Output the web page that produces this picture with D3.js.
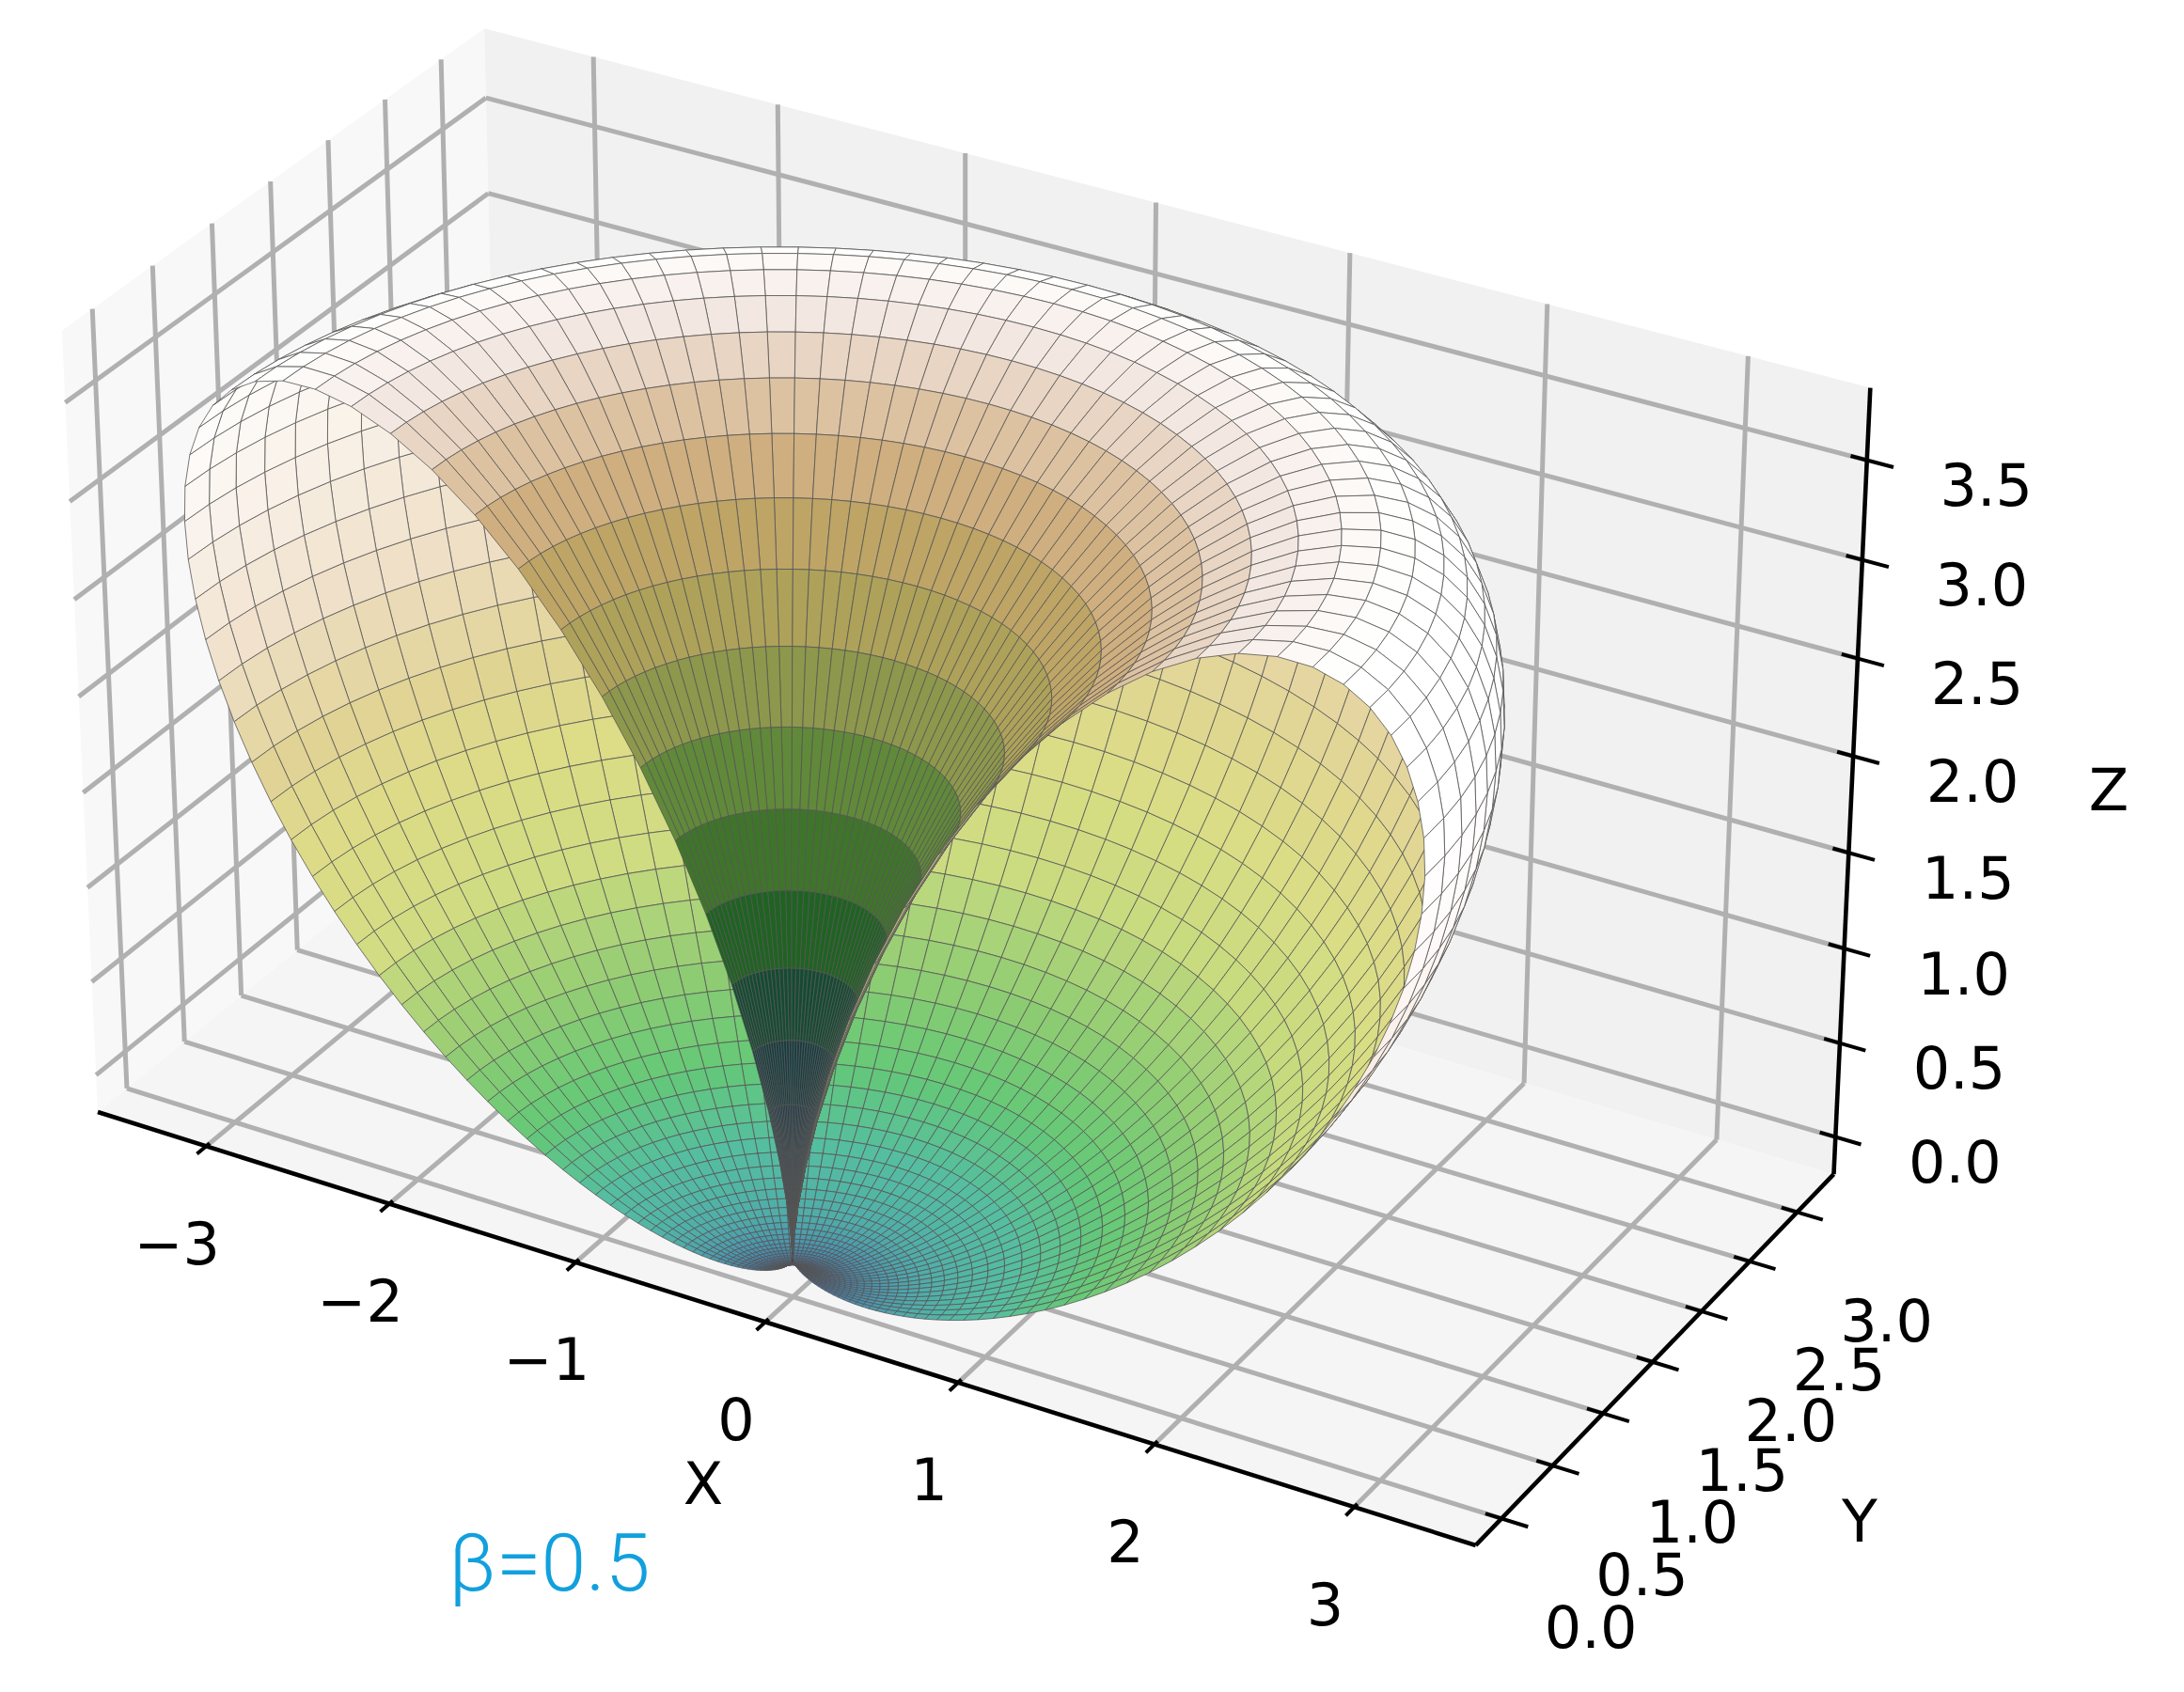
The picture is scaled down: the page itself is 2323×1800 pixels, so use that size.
<!DOCTYPE html>
<html><head><meta charset="utf-8"><style>html,body{margin:0;background:#fff}text{font-family:"DejaVu Sans"}</style>
<script src="https://cdn.jsdelivr.net/npm/d3@7"></script></head><body><svg id="c" width="2323" height="1800"></svg>
<script>
const xTicks=[-3,-2,-1,0,1,2,3], yTicks=[0,.5,1,1.5,2,2.5,3], zTicks=[0,.5,1,1.5,2,2.5,3,3.5];
const xLim=[-3.6,3.6], yLim=[-.25,3.39], zLim=[-.2,3.86];
const theta=d3.range(100).map(i=>i*180/99);
const phi=d3.range(51).map(i=>i*180/50);
const radius=[0.000,0.032,0.127,0.283,0.493,0.751,1.048,1.376,1.724,2.083,
2.442,2.793,3.128,3.438,3.720,3.967,4.176,4.347,4.477,4.569,
4.621,4.638,4.622,4.574,4.500,4.403,4.285,4.150,4.002,3.844,
3.678,3.508,3.334,3.160,2.988,2.817,2.650,2.488,2.332,2.181,
2.037,1.899,1.768,1.644,1.527,1.417,1.314,1.216,1.125,1.040,
0.961,0.887,0.818,0.754,0.695,0.640,0.588,0.541,0.497,0.456,
0.419,0.384,0.352,0.322,0.295,0.269,0.246,0.224,0.204,0.186,
0.169,0.153,0.139,0.125,0.113,0.102,0.091,0.082,0.073,0.065,
0.057,0.051,0.044,0.039,0.033,0.029,0.024,0.021,0.017,0.014,
0.011,0.009,0.007,0.005,0.003,0.002,0.001,0.001,0.000,0.000];
const wallZ=[0,.2,.5,.9,1.3,1.7,2,2.4,3,3.8];
const wallRight=["rgb(85,190,160)","rgb(100,200,118)","rgb(140,205,115)","rgb(195,218,125)","rgb(216,222,132)","rgb(222,218,138)","rgb(226,210,145)","rgb(228,206,152)","rgb(230,208,158)","rgb(232,212,170)"];
const wallLeftZ=[0,.2,.5,.9,1.3,1.7,2.2,2.8,3.3,3.8];
const wallLeft=["rgb(85,190,160)","rgb(100,200,118)","rgb(150,205,115)","rgb(210,220,130)","rgb(222,220,135)","rgb(225,210,150)","rgb(240,225,205)","rgb(250,243,238)","rgb(254,252,251)","rgb(255,255,255)"];
const lowerTheta=[90,100,110,125,140,180];
const lowerColor=["rgb(85,190,160)","rgb(80,175,170)","rgb(75,150,175)","rgb(65,115,170)","rgb(60,95,165)","rgb(70,85,140)"];
const outerZ=[1,1.5,2,2.5,3];
const outerColor=["rgb(235,215,190)","rgb(245,230,215)","rgb(250,240,235)","rgb(255,250,250)","rgb(255,255,255)"];
const coneTheta=[0,5,7,10,12.5,14,15,17,20,22,23.5,25,27,30,33,36];
const coneColor=["rgb(70,70,85)","rgb(50,60,90)","rgb(20,50,75)","rgb(20,60,65)","rgb(20,80,45)","rgb(35,105,30)","rgb(55,112,38)","rgb(90,135,55)","rgb(165,160,85)","rgb(185,165,95)","rgb(196,165,110)","rgb(212,180,135)","rgb(225,200,175)","rgb(243,232,225)","rgb(252,247,245)","rgb(255,255,255)"];

const elev=30*Math.PI/180, az=-60*Math.PI/180, dist=7;
const wx=d3.scaleLinear(xLim,[-.5,.5]), wy=d3.scaleLinear(yLim,[-.245,.245]), wz=d3.scaleLinear(zLim,[-.286,.286]);
const n=[Math.cos(elev)*Math.cos(az),Math.cos(elev)*Math.sin(az),Math.sin(elev)];
const u=[-n[1],n[0],0].map(v=>v/Math.hypot(n[0],n[1]));
const v=[n[1]*u[2]-n[2]*u[1],n[2]*u[0]-n[0]*u[2],n[0]*u[1]-n[1]*u[0]];
const dot=(a,b)=>a[0]*b[0]+a[1]*b[1]+a[2]*b[2];
const sx=d3.scaleLinear([0,1],[1023,1023+11871]), sy=d3.scaleLinear([0,1],[807.5,807.5-11780]);
function P(x,y,z){const p=[wx(x),wy(y),wz(z)],w=dist-dot(n,p);return{x:sx(dot(u,p)/w),y:sy(dot(v,p)/w),w}}
const svg=d3.select("#c");
const poly=pts=>{const d=d3.path();pts.forEach((p,i)=>i?d.lineTo(p.x,p.y):d.moveTo(p.x,p.y));d.closePath();return d.toString()};
const [x0,x1]=xLim,[y0,y1]=yLim,[z0,z1]=zLim;
[[[x0,y0,z0],[x0,y1,z0],[x0,y1,z1],[x0,y0,z1],"#f8f8f8"],
 [[x0,y1,z0],[x1,y1,z0],[x1,y1,z1],[x0,y1,z1],"#f1f1f1"],
 [[x0,y0,z0],[x1,y0,z0],[x1,y1,z0],[x0,y1,z0],"#f5f5f5"]].forEach(q=>{
  svg.append("path").attr("d",poly(q.slice(0,4).map(a=>P(...a)))).attr("fill",q[4]);});
const line=(a,b,col,w)=>{const p=P(...a),q=P(...b);svg.append("line").attr("x1",p.x).attr("y1",p.y).attr("x2",q.x).attr("y2",q.y).attr("stroke",col).attr("stroke-width",w)};
const grid="#b0b0b0",gw=5;
xTicks.forEach(t=>{line([t,y0,z0],[t,y1,z0],grid,gw);line([t,y1,z0],[t,y1,z1],grid,gw)});
yTicks.forEach(t=>{line([x0,t,z0],[x1,t,z0],grid,gw);line([x0,t,z0],[x0,t,z1],grid,gw)});
zTicks.forEach(t=>{line([x0,y0,t],[x0,y1,t],grid,gw);line([x0,y1,t],[x1,y1,t],grid,gw)});
line([x0,y0,z0],[x1,y0,z0],"#000",4.6);line([x1,y0,z0],[x1,y1,z0],"#000",4.6);line([x1,y1,z0],[x1,y1,z1],"#000",4.6);
xTicks.forEach(t=>line([t,y0+.03,z0],[t,y0-.08,z0],"#000",4));
yTicks.forEach(t=>line([x1-.08,t,z0],[x1+.13,t,z0],"#000",4));
zTicks.forEach(t=>line([x1-.08,y1,t],[x1+.13,y1,t],"#000",4));
const wr=d3.scaleLinear(wallZ,wallRight).clamp(true), wl=d3.scaleLinear(wallLeftZ,wallLeft).clamp(true), cone=d3.scaleLinear(coneTheta,coneColor).clamp(true), low=d3.scaleLinear(lowerTheta,lowerColor).clamp(true), outer=d3.scaleLinear(outerZ,outerColor).clamp(true);
const V=(i,j)=>{const a=theta[i]*Math.PI/180,b=phi[j]*Math.PI/180,r=radius[i];return[r*Math.sin(a)*Math.cos(b),r*Math.sin(a)*Math.sin(b),r*Math.cos(a)]};
const cells=[];
const area=q=>{let s=0;q.forEach((p,i)=>{const o=q[(i+1)%q.length];s+=p.x*o.y-o.x*p.y});return s};
const refSign=Math.sign(area([[55,25],[56,25],[56,26],[55,26]].map(([i,j])=>P(...V(i,j)))));
for(let i=0;i<theta.length-1;i++)for(let j=0;j<phi.length-1;j++){
 const w3=[V(i,j),V(i+1,j),V(i+1,j+1),V(i,j+1)],q=w3.map(a=>P(...a));
 const z=d3.mean(w3,a=>a[2]),th=(theta[i]+theta[i+1])/2,ph=(phi[j]+phi[j+1])/2;
 const interior=Math.sign(area(q))===refSign;
 let col;
 if(th>90) col=low(th);
 else if(interior) col=d3.interpolateRgb(wr(z),wl(z))(ph/180);
 else col=th<=38?cone(th):outer(z);
 cells.push({d:poly(q),w:d3.mean(q,a=>a.w),col});
}
cells.sort((a,b)=>b.w-a.w);
svg.append("g").selectAll("path").data(cells).join("path").attr("d",c=>c.d).attr("fill",c=>c.col).attr("stroke","#555").attr("stroke-width",.8);
const label=(s,x,y,sz)=>svg.append("text").attr("x",x).attr("y",y).attr("text-anchor","middle").attr("dominant-baseline","central").attr("font-size",sz||62).text(s);
xTicks.forEach(t=>{const p=P(t,y0,z0);label(String(t).replace("-","\u2212"),p.x-31,p.y+104)});
yTicks.forEach(t=>{const p=P(x1,t,z0);label(t.toFixed(1),p.x+95,p.y+116)});
zTicks.forEach(t=>{const p=P(x1,y1,t);label(t.toFixed(1),p.x+127,p.y+27)});
label("X",748,1578);label("Y",1978,1618);label("Z",2243,840);
svg.append("text").attr("x",477).attr("y",1692).attr("font-size",86).attr("font-weight",300).style("font-family","Roboto").attr("fill","#12a0dd").text("\u03b2=0.5");
</script></body></html>
